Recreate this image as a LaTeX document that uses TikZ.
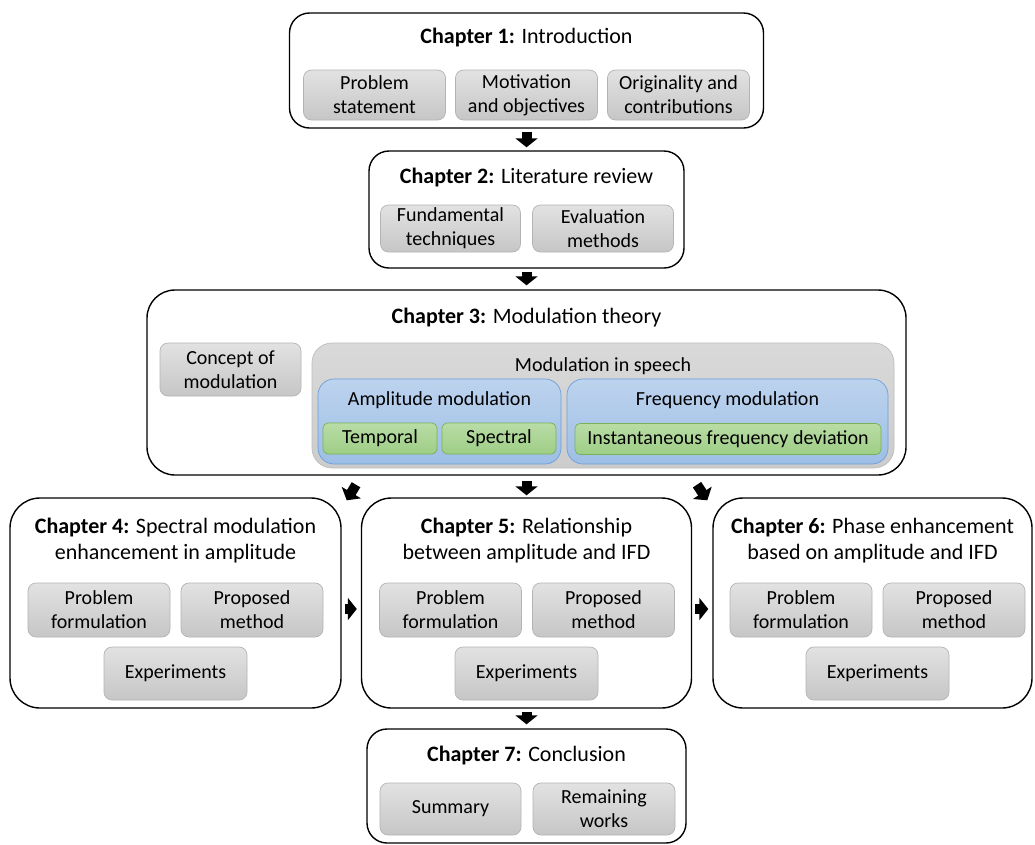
\documentclass[tikz,border=0pt]{standalone}
\usepackage{fontspec}
\setmainfont{Carlito}
\usetikzlibrary{arrows.meta}

\definecolor{topicTop}{HTML}{E2E2E2}
\definecolor{topicBot}{HTML}{C6C6C6}
\definecolor{topicLine}{HTML}{B4B4B4}
\definecolor{groupTop}{HTML}{D9D9D9}
\definecolor{groupBot}{HTML}{CCCCCC}
\definecolor{groupLine}{HTML}{BDBDBD}
\definecolor{blueTop}{HTML}{BDD3EE}
\definecolor{blueBot}{HTML}{9DBEE5}
\definecolor{blueLine}{HTML}{6A9FD8}
\definecolor{greenTop}{HTML}{B9DCA6}
\definecolor{greenBot}{HTML}{9ECE85}
\definecolor{greenLine}{HTML}{78B257}

\tikzset{
  sz/.style 2 args={minimum width=#1pt, minimum height=#2pt},
  chapter/.style={draw=black, line width=1.4pt, fill=white, inner sep=0pt},
  title/.style={font=\fontsize{22}{26}\selectfont, align=center, inner sep=0pt},
  topic/.style={draw=topicLine, line width=0.7pt, rounded corners=8pt,
    top color=topicTop, bottom color=topicBot, inner sep=0pt,
    font=\fontsize{20}{24}\selectfont, align=center},
  group/.style={draw=groupLine, line width=0.7pt, rounded corners=20pt,
    top color=groupTop, bottom color=groupBot, inner sep=0pt},
  family/.style={draw=blueLine, line width=0.7pt, rounded corners=16pt,
    top color=blueTop, bottom color=blueBot, inner sep=0pt},
  leaf/.style={draw=greenLine, line width=0.7pt, rounded corners=5pt,
    top color=greenTop, bottom color=greenBot, inner sep=0pt,
    font=\fontsize{20}{24}\selectfont, align=center},
  label/.style={font=\fontsize{20}{24}\selectfont, inner sep=0pt},
  flow/.style={line width=10pt, -{Triangle[length=9pt,width=22pt]}},
}

\begin{document}
\begin{tikzpicture}[x=1pt, y=-1pt]
\useasboundingbox (0,0) rectangle (1035,844);

% Chapter 1
\node[chapter, rounded corners=20pt, sz={474}{115}] (c1) at (526.5,70.5) {};
\node[title] (t1) at (526.5,38) {\textbf{Chapter 1:} Introduction};
\node[topic, sz={142}{50}] (c1a) at (374.5,95) {Problem\\statement};
\node[topic, sz={142}{50}] (c1b) at (526.5,95) {Motivation\\and objectives};
\node[topic, sz={142}{50}] (c1c) at (678.5,95) {Originality and\\contributions};

% Chapter 2
\node[chapter, rounded corners=20pt, sz={315}{117}] (c2) at (526.5,209.5) {};
\node[title] (t2) at (526.5,178) {\textbf{Chapter 2:} Literature review};
\node[topic, sz={140}{47}] (c2a) at (450.5,228.5) {Fundamental\\techniques};
\node[topic, sz={141}{47}] (c2b) at (603,228.5) {Evaluation\\methods};

% Chapter 3
\node[chapter, rounded corners=28pt, sz={759}{185}] (c3) at (526.5,382.5) {};
\node[title] (t3) at (526.5,318) {\textbf{Chapter 3:} Modulation theory};
\node[topic, sz={141}{53}] (c3a) at (230.5,369.5) {Concept of\\modulation};
\node[group, sz={582}{125}] (ms) at (603,405.5) {};
\node[label] (msl) at (603,366) {Modulation in speech};
\node[family, sz={243}{85}] (am) at (439.5,421.5) {};
\node[label] (aml) at (439.5,400) {Amplitude modulation};
\node[family, sz={321}{85}] (fm) at (727.5,421.5) {};
\node[label] (fml) at (727.5,400) {Frequency modulation};
\node[leaf, sz={114}{31}] (amt) at (380,438.5) {Temporal};
\node[leaf, sz={114}{31}] (ams) at (499,438.5) {Spectral};
\node[leaf, sz={306}{31}] (fmi) at (728,439) {Instantaneous frequency deviation};

% Chapter 4
\node[chapter, rounded corners=30pt, sz={331}{210}] (c4) at (175.5,603) {};
\node[title] (t4) at (175.5,540.5) {\textbf{Chapter 4:} Spectral modulation\\enhancement in amplitude};
\node[topic, sz={142}{54}] (c4a) at (99,610) {Problem\\formulation};
\node[topic, sz={142}{54}] (c4b) at (252,610) {Proposed\\method};
\node[topic, sz={143}{53}] (c4c) at (175.5,673.5) {Experiments};

% Chapter 5
\node[chapter, rounded corners=30pt, sz={330}{210}] (c5) at (526.5,603) {};
\node[title] (t5) at (526.5,540.5) {\textbf{Chapter 5:} Relationship\\between amplitude and IFD};
\node[topic, sz={142}{54}] (c5a) at (450.5,610) {Problem\\formulation};
\node[topic, sz={142}{54}] (c5b) at (603.5,610) {Proposed\\method};
\node[topic, sz={143}{53}] (c5c) at (526.5,673.5) {Experiments};

% Chapter 6
\node[chapter, rounded corners=30pt, sz={319}{210}] (c6) at (872.5,603) {};
\node[title] (t6) at (872.5,540.5) {\textbf{Chapter 6:} Phase enhancement\\based on amplitude and IFD};
\node[topic, sz={142}{54}] (c6a) at (801,610) {Problem\\formulation};
\node[topic, sz={142}{54}] (c6b) at (954,610) {Proposed\\method};
\node[topic, sz={143}{53}] (c6c) at (877.5,673.5) {Experiments};

% Chapter 7
\node[chapter, rounded corners=20pt, sz={319}{114}] (c7) at (526.5,786) {};
\node[title] (t7) at (526.5,755) {\textbf{Chapter 7:} Conclusion};
\node[topic, sz={141}{52}] (c7a) at (450.5,809) {Summary};
\node[topic, sz={142}{52}] (c7b) at (604,809) {Remaining\\works};

% Flow between chapters
\draw[flow] ([shift={(0,3)}]c1.south) -- ([shift={(0,-3)}]c2.north);
\draw[flow] ([shift={(0,3)}]c2.south) -- ([shift={(0,-4)}]c3.north);
\draw[flow] ([shift={(0,5)}]c3.south) -- ([shift={(0,-2)}]c5.north);
\draw[flow] ([shift={(-170.5,9)}]c3.south) -- ([shift={(5,3)}]c4.north east);
\draw[flow] ([shift={(170.5,9)}]c3.south) -- ([shift={(-5,3)}]c6.north west);
\draw[flow] ([shift={(3,6)}]c4.east) -- ([shift={(-4,6)}]c5.west);
\draw[flow] ([shift={(3,6)}]c5.east) -- ([shift={(-4,6)}]c6.west);
\draw[flow] ([shift={(0,3)}]c5.south) -- ([shift={(0,-4)}]c7.north);
\end{tikzpicture}
\end{document}
